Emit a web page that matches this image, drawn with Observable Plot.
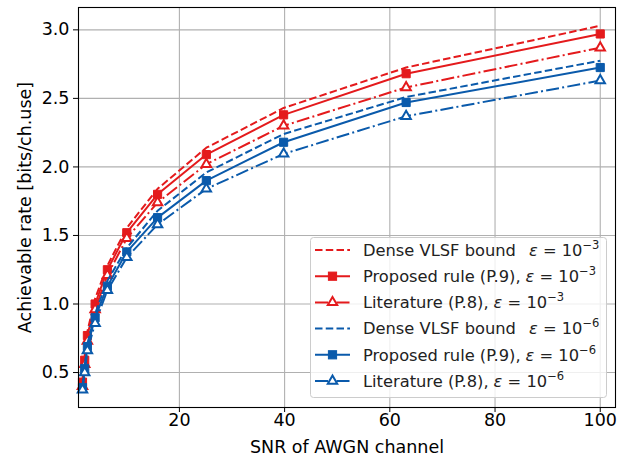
<!DOCTYPE html>
<html>
<head>
<meta charset="utf-8">
<script src="https://cdn.jsdelivr.net/npm/d3@7"></script>
<script src="https://cdn.jsdelivr.net/npm/@observablehq/plot@0.6"></script>
<style>
  html, body { margin: 0; padding: 0; background: white; }
  #chart { width: 624px; height: 462px; }
</style>
</head>
<body>
<div id="chart"></div>
<script>
// ---- data ----
const snr = [1.58, 2.0, 2.51, 3.98, 6.31, 10, 15.85, 25.12, 39.81, 63.1, 100];
const denseE3    = [0.45, 0.62, 0.80, 1.04, 1.28, 1.555, 1.84, 2.14, 2.43, 2.725, 3.03];
const proposedE3 = [0.43, 0.59, 0.77, 1.00, 1.25, 1.52, 1.80, 2.09, 2.38, 2.68, 2.97];
const literE3    = [0.40, 0.56, 0.73, 0.96, 1.21, 1.48, 1.74, 2.02, 2.30, 2.58, 2.87];
const denseE6    = [0.40, 0.55, 0.71, 0.93, 1.17, 1.41, 1.68, 1.96, 2.24, 2.51, 2.775];
const proposedE6 = [0.39, 0.53, 0.69, 0.90, 1.13, 1.38, 1.63, 1.90, 2.18, 2.47, 2.725];
const literE6    = [0.375, 0.50, 0.66, 0.86, 1.10, 1.34, 1.58, 1.84, 2.095, 2.37, 2.63];
const xTicks = [20, 40, 60, 80, 100];
const yTicks = [0.5, 1.0, 1.5, 2.0, 2.5, 3.0];
const seriesNames = [
  "Dense VLSF bound", "Proposed rule (P.9),", "Literature (P.8),",
  "Dense VLSF bound", "Proposed rule (P.9),", "Literature (P.8),"
];
const seriesExp = ["−3", "−3", "−3", "−6", "−6", "−6"];

// ---- styles ----
const RED = "#e41a1c", BLUE = "#0a5aab";
const DASH = "7.5,3.25", DASHDOT = "13,3.25,2,3.25";
const FS = 17.5;
const series = [
  {v: denseE3,    color: RED,  dash: DASH,    marker: null,       gap: 13},
  {v: proposedE3, color: RED,  dash: null,    marker: "square",   gap: 5},
  {v: literE3,    color: RED,  dash: DASHDOT, marker: "triangle", gap: 5},
  {v: denseE6,    color: BLUE, dash: DASH,    marker: null,       gap: 13},
  {v: proposedE6, color: BLUE, dash: null,    marker: "square",   gap: 5},
  {v: literE6,    color: BLUE, dash: DASHDOT, marker: "triangle", gap: 5}
];

const marks = [
  Plot.gridX(xTicks, {stroke: "#b0b0b0", strokeOpacity: 1, strokeWidth: 1.1}),
  Plot.gridY(yTicks, {stroke: "#b0b0b0", strokeOpacity: 1, strokeWidth: 1.1})
];
series.forEach(s => {
  const rows = snr.map((x, i) => ({x, y: s.v[i]}));
  marks.push(Plot.line(rows, {x: "x", y: "y", stroke: s.color, strokeWidth: 2,
    strokeDasharray: s.dash || undefined, strokeLinejoin: "round", strokeLinecap: "butt"}));
  if (s.marker === "square") {
    marks.push(Plot.dot(rows, {x: "x", y: "y", symbol: "square", r: 4.6, fill: s.color, stroke: s.color, strokeWidth: 1}));
  } else if (s.marker === "triangle") {
    marks.push(Plot.dot(rows, {x: "x", y: "y", symbol: "triangle", r: 3.5, fill: "white", stroke: s.color, strokeWidth: 2}));
  }
});
marks.push(
  Plot.frame({stroke: "black", strokeWidth: 1.1}),
  Plot.axisX(xTicks, {tickSize: 5, tickPadding: 1, label: null, fontSize: FS}),
  Plot.axisY(yTicks, {tickSize: 5, tickPadding: 4, label: null, tickFormat: d3.format(".1f"), fontSize: FS}),
  Plot.text(["SNR of AWGN channel"], {frameAnchor: "bottom", lineAnchor: "middle", textAnchor: "middle", dy: 40, fontSize: FS, fill: "black"}),
  Plot.text(["Achievable rate [bits/ch.use]"], {frameAnchor: "left", textAnchor: "middle", lineAnchor: "middle", dx: -53, rotate: -90, fontSize: FS, fill: "black"})
);

const svg = Plot.plot({
  width: 624, height: 462,
  marginLeft: 78, marginRight: 9, marginTop: 7, marginBottom: 55,
  x: {domain: [0.82, 102.9]},
  y: {domain: [0.245, 3.163]},
  style: {fontFamily: "'DejaVu Sans', sans-serif", fontSize: FS + "px", color: "black", background: "white"},
  marks
});
document.getElementById("chart").appendChild(svg);

// ---- legend ----
const g = d3.select(svg).append("g").attr("font-family", "'DejaVu Sans', sans-serif")
  .attr("font-size", 16.3).attr("text-anchor", "start");
g.append("rect").attr("x", 310.5).attr("y", 237.5).attr("width", 296).attr("height", 160)
  .attr("rx", 3).attr("fill", "white").attr("fill-opacity", 0.8).attr("stroke", "#cccccc").attr("stroke-width", 1);
series.forEach((s, i) => {
  const y = 250 + i * 26.2;
  g.append("line").attr("x1", 315).attr("x2", 350).attr("y1", y).attr("y2", y)
    .attr("stroke", s.color).attr("stroke-width", 2).attr("stroke-dasharray", s.dash || null);
  if (s.marker === "square") {
    const sz = 8.2;
    g.append("rect").attr("x", 332.5 - sz/2).attr("y", y - sz/2).attr("width", sz).attr("height", sz)
      .attr("fill", s.color).attr("stroke", s.color).attr("stroke-width", 1);
  } else if (s.marker === "triangle") {
    g.append("path").attr("d", d3.symbol(d3.symbolTriangle, Math.PI * 3.5 * 3.5)())
      .attr("transform", `translate(332.5,${y})`).attr("fill", "white").attr("stroke", s.color).attr("stroke-width", 2);
  }
  const t = g.append("text").attr("x", 363).attr("y", y).attr("dy", "0.36em").attr("fill", "#222")
    .attr("text-anchor", "start");
  t.append("tspan").text(seriesNames[i]);
  t.append("tspan").attr("dx", s.gap).attr("font-style", "italic").text("ε");
  t.append("tspan").text(" = 10");
  t.append("tspan").attr("font-size", 11.5).attr("dy", "-0.62em").text(seriesExp[i]);
});
</script>
</body>
</html>
